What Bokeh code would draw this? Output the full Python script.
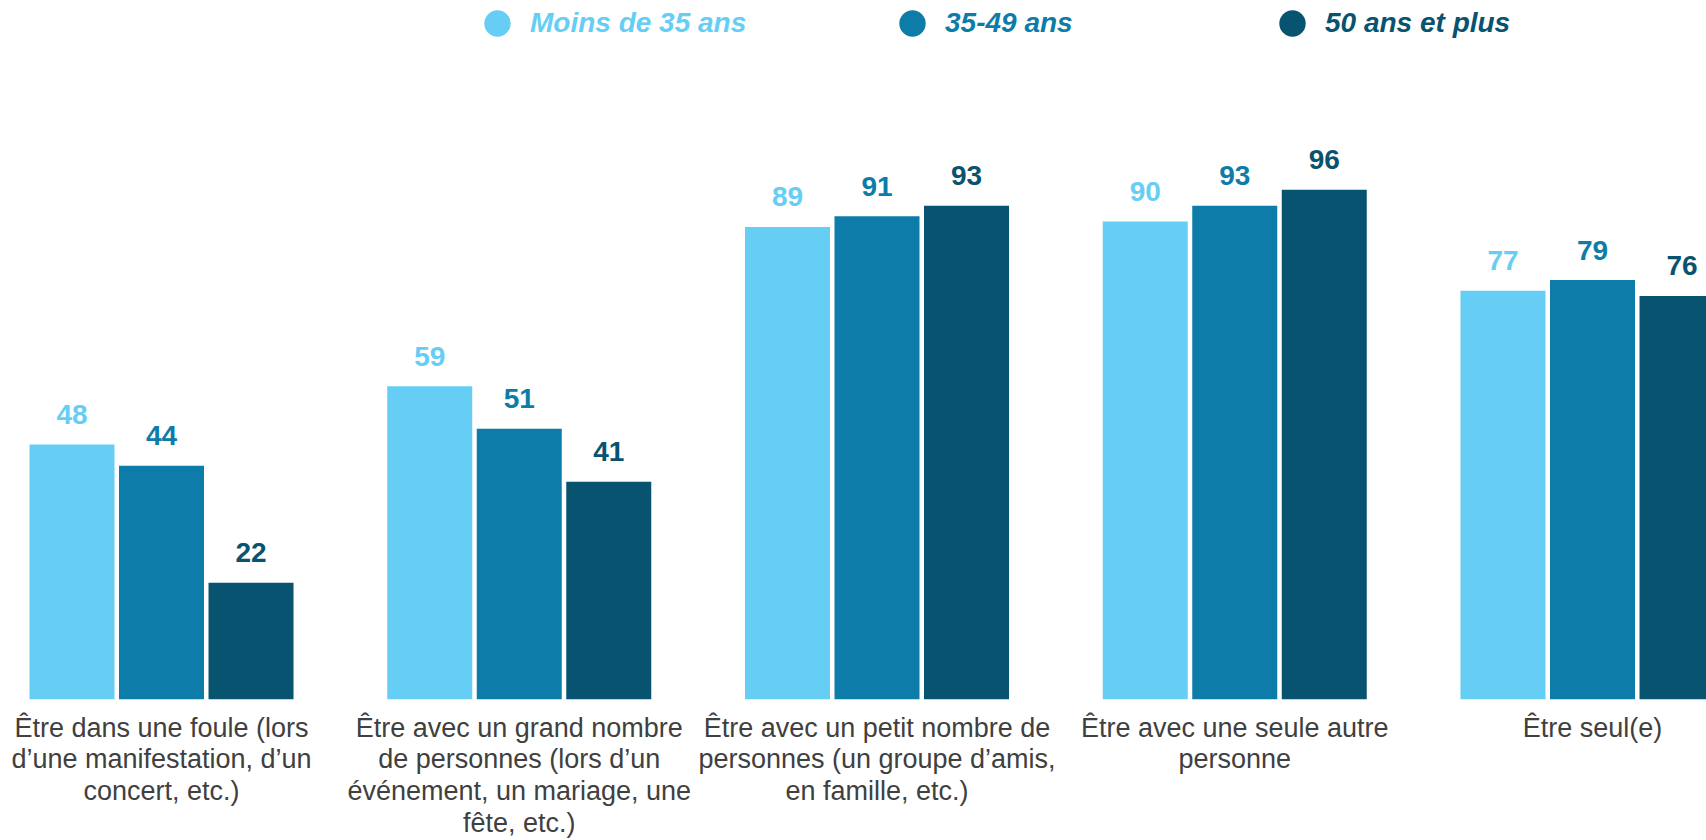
from bokeh.plotting import figure
from bokeh.models import ColumnDataSource, Range1d, FixedTicker, Legend, LegendItem
from bokeh.transform import dodge
from bokeh.core.properties import value
from bokeh.embed import file_html
from bokeh.resources import INLINE

categories = [
    "Être dans une foule (lors\nd’une manifestation, d’un\nconcert, etc.)",
    "Être avec un grand nombre\nde personnes (lors d’un\névénement, un mariage, une\nfête, etc.)",
    "Être avec un petit nombre de\npersonnes (un groupe d’amis,\nen famille, etc.)",
    "Être avec une seule autre\npersonne",
    "Être seul(e)",
]
series_names = ["Moins de 35 ans", "35-49 ans", "50 ans et plus"]
moins_35 = [48, 59, 89, 90, 77]
de_35_49 = [44, 51, 91, 93, 79]
plus_50 = [22, 41, 93, 96, 76]
colors = ["#66CEF5", "#0D7CA8", "#08536F"]

FONT = "Liberation Sans"
idx = list(range(len(categories)))

W, H = 1706, 840
frame_h = 699
px_per_group = 357.75
x_start = -161 / px_per_group
p = figure(width=W, height=H, output_backend="svg", toolbar_location=None,
           x_range=Range1d(x_start, x_start + W / px_per_group),
           y_range=Range1d(0, frame_h / 5.31),
           min_border_left=0, min_border_right=0, min_border_top=0,
           min_border_bottom=H - frame_h)
p.outline_line_color = None
p.grid.visible = False
p.yaxis.visible = False
p.background_fill_color = "white"
p.border_fill_color = "white"

src = ColumnDataSource(dict(x=idx, a=moins_35, b=de_35_49, c=plus_50,
                            at=[str(v) for v in moins_35],
                            bt=[str(v) for v in de_35_49],
                            ct=[str(v) for v in plus_50]))
offsets = [-0.2502, 0.0, 0.2502]
bw = 85 / px_per_group
legend_renderers = []
for col, off, colr in zip(["a", "b", "c"], offsets, colors):
    p.vbar(x=dodge("x", off, range=p.x_range), top=col, width=bw, bottom=0,
           source=src, fill_color=colr, line_color=None)
    p.text(x=dodge("x", off, range=p.x_range), y=col, text=col + "t", source=src,
           text_color=colr, text_font=value(FONT), text_font_size="28px",
           text_font_style="bold", text_align="center", text_baseline="alphabetic",
           y_offset=-30)
    # marker renderer used only as the legend swatch (zero size in the plot)
    legend_renderers.append(
        p.scatter(x=dodge("x", off, range=p.x_range), y=col, source=src,
                  marker="circle", size=0, fill_color=colr, line_color=None))

xa = p.xaxis[0]
xa.ticker = FixedTicker(ticks=idx)
xa.major_label_overrides = {i: c for i, c in zip(idx, categories)}
xa.axis_line_color = None
xa.major_tick_line_color = None
xa.minor_tick_line_color = None
xa.major_label_text_font = FONT
xa.major_label_text_font_size = "27px"
xa.major_label_text_color = "#404040"
xa.major_label_text_line_height = 1.06
xa.major_label_standoff = 7

legend_x = [464, 879, 1259]
for name, colr, lx, r in zip(series_names, colors, legend_x, legend_renderers):
    lg = Legend(items=[LegendItem(label=name, renderers=[r])],
                location=(lx, frame_h - 56), orientation="horizontal",
                glyph_width=66, glyph_height=66, label_standoff=0,
                padding=0, margin=0, spacing=0,
                border_line_color=None, background_fill_alpha=0,
                label_text_font=FONT, label_text_font_size="28px",
                label_text_font_style="bold italic", label_text_color=colr)
    p.add_layout(lg, "center")

open("out.html", "w").write(file_html(p, INLINE))
